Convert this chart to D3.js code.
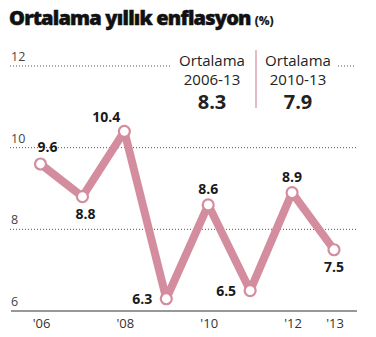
<!DOCTYPE html>
<html><head><meta charset="utf-8">
<script src="https://cdn.jsdelivr.net/npm/d3@7"></script>
<style>body{margin:0;background:#fff}svg{display:block;font-family:"Open Sans",sans-serif}</style>
</head><body><svg id="c" width="376" height="337"></svg>
<script>
const years = [2006, 2007, 2008, 2009, 2010, 2011, 2012, 2013];
const inflation = [9.6, 8.8, 10.4, 6.3, 8.6, 6.5, 8.9, 7.5];
const labelPos = ["above", "below", "aboveLeft", "left", "above", "left", "above", "below"];
const yTicks = [6, 8, 10, 12];
const xTickYears = [2006, 2008, 2010, 2012, 2013];
const averages = [{title: "Ortalama", period: "2006-13", value: "8.3"}, {title: "Ortalama", period: "2010-13", value: "7.9"}];

const svg = d3.select("#c");
const pink = "#d38d9e";
const x = d3.scaleLinear().domain([2006, 2013]).range([40.5, 334]);
const y = d3.scaleLinear().domain([6, 12]).range([311, 66]);

// title
const t = svg.append("text").attr("x", 9).attr("y", 25).attr("fill", "#111").attr("stroke", "#111").attr("stroke-width", 0.5);
t.append("tspan").attr("font-size", 20).attr("font-weight", 800).attr("letter-spacing", -0.8).text("Ortalama yıllık enflasyon");
t.append("tspan").attr("font-size", 12).attr("font-weight", 700).attr("dx", 4).attr("stroke-width", 0.2).text("(%)");

// gridlines
yTicks.filter(v => v > 6).forEach(v => {
  const segs = v === 12 ? [[10, 170], [338, 356]] : [[10, 356]];
  segs.forEach(s => svg.append("line").attr("x1", s[0]).attr("x2", s[1]).attr("y1", y(v)).attr("y2", y(v))
    .attr("stroke", "#555").attr("stroke-width", 1).attr("stroke-dasharray", "1,2"));
});
svg.selectAll(".yl").data(yTicks).join("text").attr("x", 11).attr("y", d => y(d) - 5)
  .attr("font-size", 12.5).attr("fill", "#444").text(d => d);

// axis
svg.append("line").attr("x1", 11).attr("x2", 357).attr("y1", y(6)).attr("y2", y(6)).attr("stroke", "#333").attr("stroke-width", 1.2);
svg.selectAll(".xl").data(xTickYears).join("text").attr("x", d => x(d) + 1).attr("y", 328)
  .attr("text-anchor", "middle").attr("font-size", 13).attr("fill", "#333").text(d => "'" + String(d).slice(2));

// averages boxes
const boxX = [212, 298];
averages.forEach((a, i) => {
  const g = svg.append("g").attr("text-anchor", "middle").attr("fill", "#222");
  g.append("text").attr("x", boxX[i]).attr("y", 66).attr("font-size", 15).text(a.title);
  g.append("text").attr("x", boxX[i]).attr("y", 85).attr("font-size", 15).text(a.period.replace("-", "‑"));
  g.append("text").attr("x", boxX[i]).attr("y", 109).attr("font-size", 20).attr("font-weight", 700).text(a.value);
});
svg.append("line").attr("x1", 256).attr("x2", 256).attr("y1", 50).attr("y2", 108).attr("stroke", pink).attr("stroke-width", 1.2);

// line
const data = years.map((yr, i) => ({yr, v: inflation[i], pos: labelPos[i]}));
svg.append("path").datum(data).attr("fill", "none").attr("stroke", pink).attr("stroke-width", 8)
  .attr("stroke-linejoin", "round")
  .attr("d", d3.line().x(d => x(d.yr)).y(d => y(d.v)));
svg.selectAll(".pt").data(data).join("circle").attr("cx", d => x(d.yr)).attr("cy", d => y(d.v)).attr("r", 5.5)
  .attr("fill", "#fff").attr("stroke", pink).attr("stroke-width", 2.2);

// labels
const off = {above: [0, -11, "middle"], below: [0, 22, "middle"], aboveLeft: [-18, -9, "middle"], left: [-14, 5, "end"]};
svg.selectAll(".lb").data(data).join("text")
  .attr("x", d => x(d.yr) + off[d.pos][0] + (d.yr === 2006 ? 7 : 0) + (d.yr === 2007 ? 3 : 0))
  .attr("y", d => y(d.v) + off[d.pos][1] + (d.yr === 2006 ? -1 : 0))
  .attr("text-anchor", d => off[d.pos][2])
  .attr("font-size", 14).attr("font-weight", 700).attr("fill", "#1a1a1a").text(d => d.v.toFixed(1));
</script></body></html>
